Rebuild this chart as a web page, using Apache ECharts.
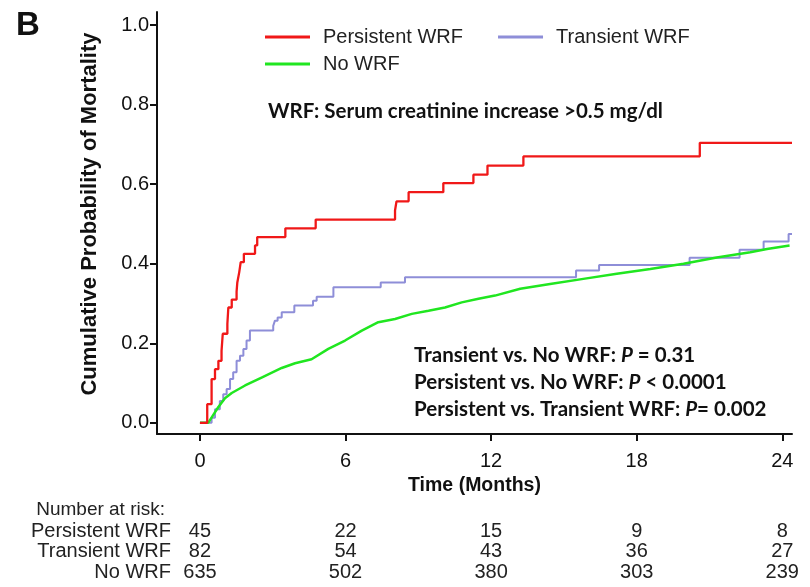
<!DOCTYPE html>
<html><head><meta charset="utf-8">
<script src="https://cdn.jsdelivr.net/npm/echarts@6/dist/echarts.min.js"></script>
<style>html,body{margin:0;padding:0;background:#fff}#c{width:810px;height:587px}</style>
</head><body><div id="c"></div>
<script>
// ---- data ----
const xTicks = [0, 6, 12, 18, 24];
const yTicks = [0, 0.2, 0.4, 0.6, 0.8, 1.0];

const persistentT = [0, 0.30, 0.48, 0.62, 0.76, 0.89, 0.94, 1.13, 1.17, 1.31, 1.51, 1.54, 1.62, 1.68, 1.81, 2.27, 2.36, 3.52, 4.77, 8.04, 8.10, 8.60, 10.03, 11.27, 11.85, 13.33, 20.60, 24.40];
const persistentV = [0, 0.047, 0.110, 0.135, 0.156, 0.181, 0.224, 0.249, 0.290, 0.310, 0.330, 0.353, 0.379, 0.404, 0.425, 0.446, 0.467, 0.489, 0.511, 0.534, 0.557, 0.580, 0.603, 0.624, 0.647, 0.670, 0.704, 0.704];

const transientT = [0, 0.48, 0.62, 0.82, 0.96, 1.10, 1.24, 1.37, 1.51, 1.65, 1.79, 1.92, 2.06, 3.02, 3.09, 3.20, 3.37, 3.89, 4.66, 4.81, 5.50, 7.45, 8.45, 15.50, 16.45, 20.18, 22.24, 23.23, 24.26, 24.40];
const transientV = [0, 0.013, 0.034, 0.055, 0.072, 0.085, 0.110, 0.127, 0.156, 0.169, 0.186, 0.207, 0.232, 0.244, 0.257, 0.265, 0.278, 0.295, 0.307, 0.317, 0.341, 0.353, 0.366, 0.383, 0.397, 0.415, 0.435, 0.456, 0.475, 0.475];

const noWrfT = [0, 0.34, 0.55, 0.76, 1.03, 1.31, 1.86, 2.54, 3.37, 3.92, 4.60, 5.29, 5.98, 6.67, 7.35, 8.04, 8.73, 9.42, 10.10, 10.79, 11.48, 12.16, 13.20, 14.43, 15.80, 17.18, 18.56, 19.93, 21.30, 22.68, 23.37, 24.30];
const noWrfV = [0, 0, 0.020, 0.040, 0.062, 0.075, 0.094, 0.114, 0.138, 0.150, 0.160, 0.186, 0.207, 0.232, 0.253, 0.261, 0.274, 0.282, 0.290, 0.303, 0.312, 0.320, 0.337, 0.349, 0.362, 0.375, 0.387, 0.400, 0.416, 0.429, 0.437, 0.446];

const seriesNames = ['Persistent WRF', 'Transient WRF', 'No WRF'];
const riskPersistent = [45, 22, 15, 9, 8];
const riskTransient = [82, 54, 43, 36, 27];
const riskNoWrf = [635, 502, 380, 303, 239];

const noteText = 'WRF: Serum creatinine increase >0.5 mg/dl';
const pTexts = [
  ['Transient vs. No WRF: ', ' = 0.31'],
  ['Persistent vs. No WRF: ', ' < 0.0001'],
  ['Persistent vs. Transient WRF: ', '= 0.002']
];

// ---- chart ----
const zip = (a, b) => a.map((t, i) => [t, b[i]]);
const ARIAL = "'Liberation Sans', Arial, sans-serif";
const BOLDF = "Lato, 'Open Sans', sans-serif";
const colors = ['#f01818', '#8e8ed8', '#20e620'];

const chart = echarts.init(document.getElementById('c'), null, { renderer: 'canvas' });

chart.setOption({
  animation: false,
  backgroundColor: '#fff',
  grid: { left: 157, right: 18, top: 12, bottom: 153, containLabel: false },
  xAxis: {
    type: 'value', min: -1.77, max: 24.4,
    name: 'Time (Months)', nameLocation: 'middle', nameGap: 36,
    nameTextStyle: { fontFamily: ARIAL, fontWeight: 'bold', fontSize: 19.5, color: '#111' },
    axisLine: { show: true, onZero: false, lineStyle: { color: '#111', width: 2 } },
    axisTick: { show: true, customValues: xTicks, length: 7, lineStyle: { color: '#111', width: 2 } },
    axisLabel: { customValues: xTicks, fontFamily: ARIAL, fontSize: 20, color: '#111', margin: 17 },
    splitLine: { show: false }
  },
  yAxis: {
    type: 'value', min: -0.028, max: 1.033,
    name: 'Cumulative Probability of Mortality', nameLocation: 'middle', nameGap: 56,
    nameTextStyle: { fontFamily: ARIAL, fontWeight: 'bold', fontSize: 22, color: '#111', padding: [0, 0, 0, 18] },
    axisLine: { show: true, onZero: false, lineStyle: { color: '#111', width: 2 } },
    axisTick: { show: true, customValues: yTicks, length: 7, lineStyle: { color: '#111', width: 2 } },
    axisLabel: { customValues: yTicks, fontFamily: ARIAL, fontSize: 20, color: '#111', margin: 8,
      formatter: v => v.toFixed(1) },
    splitLine: { show: false }
  },
  legend: [
    { data: [seriesNames[0], seriesNames[1]], left: 265, top: 27, padding: 0, orient: 'horizontal',
      itemWidth: 45, itemHeight: 3, itemGap: 35, icon: 'rect',
      textStyle: { fontFamily: ARIAL, fontSize: 20, color: '#222', padding: [0, 0, 0, 8] } },
    { data: [seriesNames[2]], left: 265, top: 54, padding: 0,
      itemWidth: 45, itemHeight: 3, icon: 'rect',
      textStyle: { fontFamily: ARIAL, fontSize: 20, color: '#222', padding: [0, 0, 0, 8] } }
  ],
  series: [
    { name: seriesNames[1], type: 'line', step: 'end', showSymbol: false, data: zip(transientT, transientV),
      lineStyle: { color: colors[1], width: 2 }, itemStyle: { color: colors[1] }, z: 2 },
    { name: seriesNames[2], type: 'line', showSymbol: false, data: zip(noWrfT, noWrfV),
      lineStyle: { color: colors[2], width: 2.5 }, itemStyle: { color: colors[2] }, z: 3 },
    { name: seriesNames[0], type: 'line', step: 'end', showSymbol: false, data: zip(persistentT, persistentV),
      lineStyle: { color: colors[0], width: 2.3 }, itemStyle: { color: colors[0] }, z: 4 }
  ]
});

// ---- annotations and number-at-risk table ----
const g = [];
g.push({ type: 'text', left: 16, top: 9, style: { text: 'B', font: "bold 33px " + ARIAL, fill: '#111' } });
g.push({ type: 'text', x: 268, y: 111, style: { text: noteText, font: "bold 20.5px " + BOLDF, fill: '#111', verticalAlign: 'middle' } });
const pY = [355, 382, 409];
pTexts.forEach((p, i) => {
  g.push({ type: 'text', x: 414, y: pY[i], style: {
    text: p[0] + '{i|P}' + p[1], font: "bold 20.5px " + BOLDF, fill: '#111', verticalAlign: 'middle',
    rich: { i: { fontStyle: 'italic', fontWeight: 'bold', fontSize: 20.5, fontFamily: BOLDF, fill: '#111' } }
  } });
});
g.push({ type: 'text', x: 165, y: 510, style: { text: 'Number at risk:', font: "19px " + ARIAL, fill: '#222', align: 'right', verticalAlign: 'middle' } });
const rows = [riskPersistent, riskTransient, riskNoWrf];
const rowY = [531, 551, 572];
rows.forEach((r, i) => {
  g.push({ type: 'text', x: 171, y: rowY[i], style: { text: seriesNames[i], font: "20px " + ARIAL, fill: '#222', align: 'right', verticalAlign: 'middle' } });
  r.forEach((n, j) => {
    const px = chart.convertToPixel({ xAxisIndex: 0 }, xTicks[j]);
    g.push({ type: 'text', x: px, y: rowY[i], style: { text: String(n), font: "20px " + ARIAL, fill: '#222', align: 'center', verticalAlign: 'middle' } });
  });
});
chart.setOption({ graphic: g });
</script>
</body></html>
